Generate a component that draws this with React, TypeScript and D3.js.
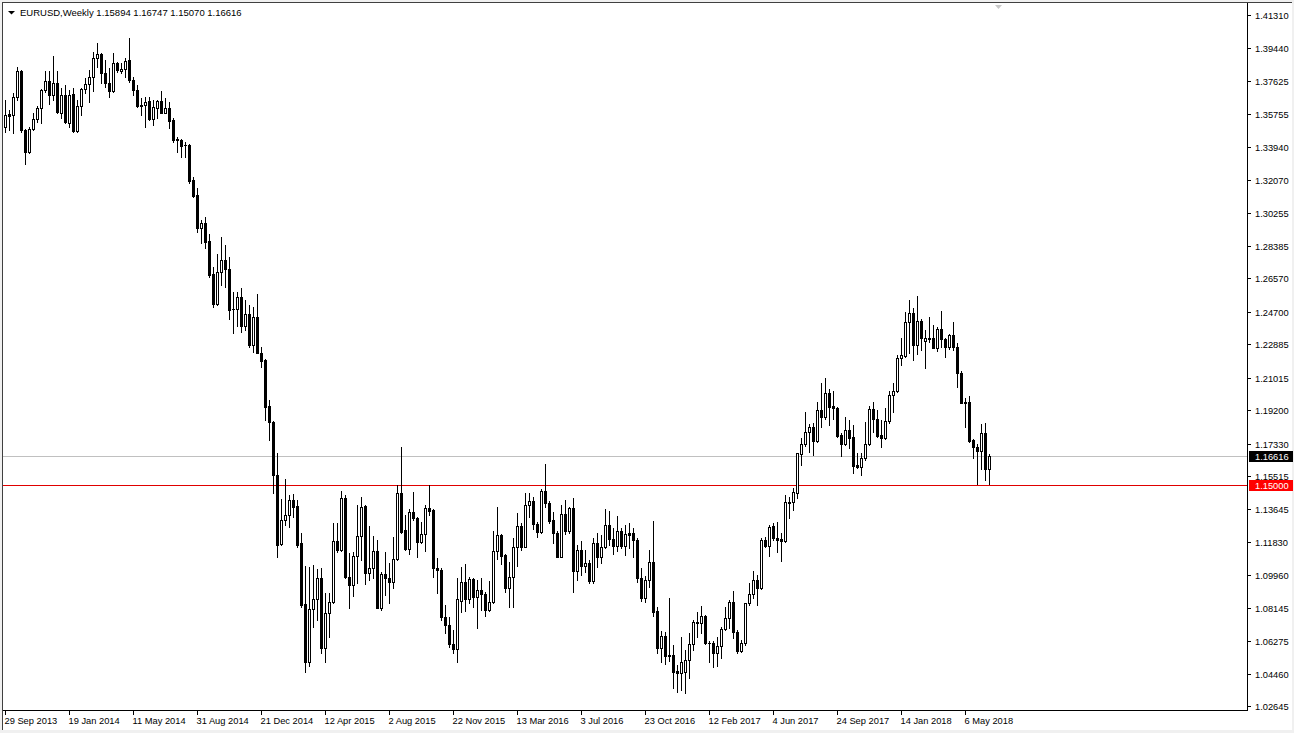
import * as d3 from 'd3';
import React, { ReactElement } from 'react';

const W = 1294;
const H = 733;
const PLOT_RIGHT = 1247;
const PLOT_BOTTOM = 710;
const FONT = "'Liberation Sans', Arial, sans-serif";

const symbol = 'EURUSD,Weekly';

// weekly bars, starting with the week of 29 Sep 2013
const opens = [
  1.3506, 1.3577, 1.3571, 1.3674, 1.3819, 1.3488, 1.3366, 1.3491, 1.3547, 1.3608,
  1.3711, 1.3761, 1.3683, 1.3748, 1.3581, 1.3683, 1.3524, 1.3689, 1.3482, 1.3621,
  1.3715, 1.3743, 1.3782, 1.3892, 1.3911, 1.3805, 1.3752, 1.3706, 1.3861, 1.3817,
  1.3827, 1.3879, 1.3767, 1.3711, 1.3621, 1.3627, 1.365, 1.3547, 1.3608, 1.365,
  1.3584, 1.3608, 1.3543, 1.3436, 1.3432, 1.3404, 1.3404, 1.3208, 1.3124, 1.2941,
  1.2966, 1.2866, 1.2682, 1.2514, 1.2695, 1.276, 1.2708, 1.2486, 1.2484, 1.2551,
  1.2391, 1.2458, 1.2284, 1.2439, 1.2241, 1.22, 1.1943, 1.1854, 1.1557, 1.1171,
  1.1305, 1.1333, 1.1417, 1.1383, 1.1174, 1.0835, 1.0512, 1.0805, 1.0861, 1.0978,
  1.0591, 1.0783, 1.0848, 1.1188, 1.1137, 1.1427, 1.0988, 1.0941, 1.1104, 1.1216,
  1.1383, 1.101, 1.1035, 1.1131, 1.0814, 1.1003, 1.0982, 1.0959, 1.1087, 1.1458,
  1.1249, 1.1141, 1.1351, 1.1318, 1.1184, 1.1225, 1.137, 1.1361, 1.1035, 1.1025,
  1.0764, 1.0718, 1.061, 1.0582, 1.0853, 1.0956, 1.0863, 1.0974, 1.0872, 1.0913,
  1.0891, 1.0801, 1.0844, 1.1131, 1.1221, 1.1109, 1.0926, 1.0984, 1.1152, 1.1271,
  1.1156, 1.1389, 1.1411, 1.1281, 1.124, 1.1467, 1.1402, 1.1305, 1.1234, 1.11,
  1.1339, 1.1245, 1.137, 1.1021, 1.1137, 1.1049, 1.1063, 1.0965, 1.1174, 1.11,
  1.1152, 1.1277, 1.1197, 1.1159, 1.1243, 1.1159, 1.123, 1.123, 1.1193, 1.0978,
  1.0866, 1.0969, 1.107, 1.0796, 1.0591, 1.0656, 1.055, 1.055, 1.046, 1.0447,
  1.0456, 1.0522, 1.0612, 1.0733, 1.0727, 1.077, 1.0619, 1.0619, 1.0559, 1.06,
  1.0695, 1.0755, 1.0844, 1.0677, 1.0574, 1.0615, 1.0839, 1.0889, 1.0969, 1.0922,
  1.1193, 1.1161, 1.1271, 1.1202, 1.1197, 1.1189, 1.1404, 1.1404, 1.1458, 1.1674,
  1.1729, 1.1796, 1.1824, 1.1749, 1.1921, 1.188, 1.2014, 1.1943, 1.1934, 1.1781,
  1.1731, 1.1809, 1.1771, 1.1613, 1.1603, 1.165, 1.1731, 1.1925, 1.187, 1.1781,
  1.1762, 1.1859, 1.2005, 1.2027, 1.221, 1.2223, 1.2411, 1.2462, 1.2284, 1.2419,
  1.2308, 1.2322, 1.2322, 1.2269, 1.2372, 1.2316, 1.2271, 1.234, 1.2275, 1.2126,
  1.1967, 1.1964, 1.1753, 1.1715, 1.1693, 1.179, 1.15894,
];

const highs = [
  1.3655, 1.3599, 1.3692, 1.3842, 1.3823, 1.3495, 1.3506, 1.3581, 1.3621, 1.3716,
  1.3817, 1.3817, 1.3901, 1.3817, 1.372, 1.3739, 1.3711, 1.372, 1.3655, 1.3724,
  1.378, 1.3823, 1.3925, 1.3973, 1.3917, 1.3879, 1.3833, 1.3917, 1.387, 1.3861,
  1.3888, 1.4001, 1.3786, 1.3739, 1.3668, 1.3674, 1.3674, 1.3655, 1.3655, 1.3705,
  1.3665, 1.3645, 1.3553, 1.3447, 1.3436, 1.3422, 1.3408, 1.3223, 1.3161, 1.2984,
  1.3003, 1.2904, 1.2719, 1.2794, 1.289, 1.2844, 1.2778, 1.2583, 1.2583, 1.2602,
  1.2536, 1.2508, 1.2495, 1.257, 1.2271, 1.2205, 1.1977, 1.186, 1.168, 1.1423,
  1.1535, 1.1445, 1.1451, 1.1417, 1.123, 1.1049, 1.1043, 1.1053, 1.1029, 1.1034,
  1.0895, 1.0895, 1.1287, 1.1287, 1.1467, 1.1445, 1.1118, 1.1128, 1.1389, 1.1436,
  1.1388, 1.1271, 1.1215, 1.1193, 1.1016, 1.1128, 1.1062, 1.1212, 1.1501, 1.1715,
  1.1333, 1.1365, 1.1464, 1.1324, 1.1296, 1.1389, 1.1501, 1.1366, 1.1091, 1.1036,
  1.0829, 1.0764, 1.069, 1.0978, 1.1043, 1.1058, 1.0987, 1.098, 1.0969, 1.0978,
  1.0902, 1.0963, 1.1245, 1.1376, 1.1227, 1.1115, 1.1072, 1.1203, 1.1343, 1.1287,
  1.1454, 1.1458, 1.1436, 1.1294, 1.1477, 1.1619, 1.1411, 1.1351, 1.1243, 1.1389,
  1.1417, 1.138, 1.1427, 1.1165, 1.1188, 1.1137, 1.1081, 1.1203, 1.123, 1.1221,
  1.1365, 1.1355, 1.1258, 1.1327, 1.1258, 1.1277, 1.1287, 1.126, 1.1204, 1.1034,
  1.0989, 1.1137, 1.1301, 1.0816, 1.0684, 1.068, 1.087, 1.0606, 1.0494, 1.0652,
  1.0578, 1.0671, 1.0746, 1.0792, 1.0824, 1.0774, 1.063, 1.0628, 1.0652, 1.0708,
  1.0816, 1.0857, 1.0906, 1.069, 1.0634, 1.0842, 1.095, 1.102, 1.0997, 1.1204,
  1.1212, 1.1277, 1.1287, 1.1292, 1.123, 1.1445, 1.1436, 1.1486, 1.1682, 1.1762,
  1.1911, 1.1842, 1.1846, 1.1967, 1.2074, 1.2098, 1.2037, 1.2029, 1.194, 1.179,
  1.1883, 1.1865, 1.1837, 1.1682, 1.1678, 1.1855, 1.1943, 1.1967, 1.1921, 1.1865,
  1.193, 1.2029, 1.2074, 1.2228, 1.2322, 1.2471, 1.2536, 1.249, 1.2559, 1.2428,
  1.2368, 1.2443, 1.2396, 1.2387, 1.2476, 1.2324, 1.2345, 1.2415, 1.2294, 1.2141,
  1.1986, 1.1999, 1.1758, 1.173, 1.1842, 1.185, 1.16747,
];

const lows = [
  1.3478, 1.3488, 1.3473, 1.3655, 1.3478, 1.3296, 1.3361, 1.3488, 1.3533, 1.3528,
  1.3701, 1.3631, 1.3655, 1.3581, 1.3553, 1.3524, 1.3506, 1.3478, 1.3478, 1.3571,
  1.3692, 1.3645, 1.3707, 1.3842, 1.3748, 1.3726, 1.3674, 1.3701, 1.3814, 1.3808,
  1.3786, 1.3758, 1.3683, 1.3618, 1.3571, 1.3506, 1.3543, 1.3515, 1.3553, 1.3581,
  1.3581, 1.3497, 1.3422, 1.3366, 1.3335, 1.3339, 1.319, 1.3115, 1.2919, 1.2857,
  1.2825, 1.2667, 1.2499, 1.2508, 1.262, 1.2611, 1.243, 1.2353, 1.2391, 1.2359,
  1.2368, 1.2271, 1.2246, 1.2238, 1.2163, 1.1865, 1.1753, 1.1454, 1.11, 1.1165,
  1.1277, 1.1268, 1.1324, 1.1156, 1.082, 1.0456, 1.0488, 1.0708, 1.0746, 1.0563,
  1.0512, 1.0652, 1.0842, 1.1127, 1.1131, 1.0978, 1.0814, 1.0881, 1.095, 1.1081,
  1.0947, 1.0969, 1.0978, 1.0811, 1.0801, 1.0885, 1.0839, 1.0923, 1.1081, 1.1234,
  1.1137, 1.1116, 1.1305, 1.11, 1.1178, 1.1131, 1.1333, 1.0988, 1.0895, 1.0746,
  1.0671, 1.0597, 1.0559, 1.0512, 1.0792, 1.0798, 1.0839, 1.082, 1.0703, 1.0801,
  1.0769, 1.0797, 1.0839, 1.1085, 1.1059, 1.0904, 1.082, 1.0817, 1.1047, 1.1137,
  1.1152, 1.1324, 1.1253, 1.1212, 1.1234, 1.1376, 1.1287, 1.1174, 1.1096, 1.1096,
  1.1227, 1.1234, 1.0904, 1.0969, 1.0997, 1.1016, 1.0954, 1.0954, 1.1043, 1.1066,
  1.1146, 1.1165, 1.1115, 1.1131, 1.1148, 1.1109, 1.1146, 1.11, 1.0959, 1.0853,
  1.0846, 1.0932, 1.0768, 1.0563, 1.0512, 1.0498, 1.0518, 1.0363, 1.0344, 1.0354,
  1.0335, 1.042, 1.0578, 1.0652, 1.0671, 1.0612, 1.0512, 1.0484, 1.0488, 1.0531,
  1.069, 1.0699, 1.0643, 1.0563, 1.0568, 1.0606, 1.0829, 1.087, 1.0829, 1.0917,
  1.1156, 1.1104, 1.1193, 1.1127, 1.1073, 1.1184, 1.1316, 1.1361, 1.1427, 1.1613,
  1.1719, 1.1687, 1.1667, 1.1744, 1.1824, 1.1869, 1.1837, 1.1869, 1.1771, 1.1665,
  1.1725, 1.1706, 1.157, 1.1594, 1.1557, 1.1641, 1.1725, 1.1799, 1.1771, 1.1715,
  1.176, 1.1846, 1.1911, 1.2023, 1.2172, 1.2219, 1.2238, 1.22, 1.2234, 1.2256,
  1.2154, 1.2303, 1.2266, 1.2253, 1.2275, 1.2215, 1.226, 1.2256, 1.2051, 1.1958,
  1.1824, 1.174, 1.165, 1.1509, 1.1589, 1.1529, 1.1507,
];

const closes = [
  1.3571, 1.3565, 1.3674, 1.3819, 1.3488, 1.3366, 1.3491, 1.3547, 1.3608, 1.3711,
  1.3761, 1.3683, 1.3748, 1.3589, 1.3683, 1.3533, 1.3683, 1.3482, 1.3621, 1.3715,
  1.3743, 1.3782, 1.3892, 1.3911, 1.3805, 1.3752, 1.3706, 1.3861, 1.3823, 1.3827,
  1.3873, 1.3767, 1.3711, 1.3621, 1.3627, 1.3645, 1.3547, 1.3614, 1.365, 1.3584,
  1.3608, 1.3539, 1.3432, 1.3432, 1.34, 1.3402, 1.3202, 1.312, 1.2941, 1.2966,
  1.2862, 1.2676, 1.2514, 1.2695, 1.276, 1.2708, 1.248, 1.2484, 1.2551, 1.2391,
  1.2458, 1.2284, 1.2439, 1.2241, 1.2196, 1.194, 1.1854, 1.1557, 1.1165, 1.1305,
  1.1333, 1.1417, 1.138, 1.1165, 1.0829, 1.0512, 1.0805, 1.0861, 1.0978, 1.0591,
  1.0783, 1.0848, 1.1188, 1.1137, 1.1427, 1.0988, 1.0941, 1.1104, 1.1216, 1.138,
  1.101, 1.1035, 1.1131, 1.0814, 1.1003, 1.0978, 1.0959, 1.1087, 1.1458, 1.124,
  1.1141, 1.1351, 1.1314, 1.1184, 1.1225, 1.137, 1.1357, 1.1035, 1.1025, 1.0764,
  1.0718, 1.061, 1.0582, 1.0861, 1.0956, 1.0863, 1.0974, 1.0875, 1.0913, 1.0891,
  1.0801, 1.0844, 1.1131, 1.1221, 1.1105, 1.0926, 1.0984, 1.1152, 1.1271, 1.1156,
  1.1389, 1.1411, 1.1281, 1.124, 1.1467, 1.1398, 1.1301, 1.1234, 1.11, 1.1339,
  1.1245, 1.137, 1.1021, 1.1137, 1.1049, 1.1063, 1.0965, 1.1174, 1.11, 1.1152,
  1.1277, 1.1197, 1.1159, 1.1243, 1.1159, 1.1225, 1.1221, 1.1193, 1.0978, 1.0866,
  1.0969, 1.107, 1.0792, 1.0591, 1.0656, 1.0546, 1.0546, 1.0456, 1.0447, 1.0509,
  1.0522, 1.0612, 1.0733, 1.0727, 1.077, 1.0619, 1.0615, 1.0559, 1.06, 1.0695,
  1.0755, 1.0844, 1.0677, 1.0574, 1.0615, 1.0839, 1.0889, 1.0969, 1.0922, 1.1193,
  1.1161, 1.1268, 1.1202, 1.1193, 1.1189, 1.1404, 1.1407, 1.146, 1.1678, 1.1729,
  1.1796, 1.1824, 1.1749, 1.1921, 1.188, 1.2014, 1.194, 1.1931, 1.1777, 1.1731,
  1.1809, 1.1766, 1.1609, 1.1603, 1.165, 1.1731, 1.1925, 1.1869, 1.1777, 1.1766,
  1.1859, 1.2005, 1.2027, 1.221, 1.2227, 1.2411, 1.2462, 1.2284, 1.2419, 1.2322,
  1.2322, 1.2318, 1.2269, 1.2372, 1.2316, 1.2271, 1.234, 1.2275, 1.2126, 1.1962,
  1.1962, 1.1747, 1.1715, 1.1693, 1.179, 1.159, 1.16616,
];

const priceTicks = [
  1.4131, 1.3944, 1.37625, 1.35755, 1.3394, 1.3207, 1.30255, 1.28385, 1.2657, 1.247, 1.22885,
  1.21015, 1.192, 1.1733, 1.15515, 1.13645, 1.1183, 1.0996, 1.08145, 1.06275, 1.0446, 1.02645,
];

const dateLabels = [
  '29 Sep 2013', '19 Jan 2014', '11 May 2014', '31 Aug 2014', '21 Dec 2014', '12 Apr 2015',
  '2 Aug 2015', '22 Nov 2015', '13 Mar 2016', '3 Jul 2016', '23 Oct 2016', '12 Feb 2017',
  '4 Jun 2017', '24 Sep 2017', '14 Jan 2018', '6 May 2018',
];

const alertLevel = 1.15;

const App = (): ReactElement => {
  const n = closes.length;
  const x = d3.scaleLinear().domain([0, 1]).range([5.5, 9.5]);
  const y = d3.scaleLinear().domain([1.02418, 1.41926]).range([PLOT_BOTTOM, 4]);
  const py = (v: number) => Math.round(y(v));

  const parse = d3.timeParse('%d %b %Y');
  const start = parse(dateLabels[0]) as Date;
  const dateIdx = dateLabels.map((s) =>
    Math.round(d3.timeDay.count(start, parse(s) as Date) / 7),
  );

  const last = closes[n - 1];
  const fmt = d3.format('.5f');
  const header = `${symbol}  ${fmt(opens[n - 1])} ${fmt(highs[n - 1])} ${fmt(lows[n - 1])} ${fmt(last)}`;

  const candles = d3.range(n).map((i) => {
    const o = opens[i];
    const c = closes[i];
    const xc = x(i);
    const top = py(Math.max(o, c));
    const bot = py(Math.min(o, c));
    const up = c > o;
    return (
      <g key={i}>
        <line x1={xc} x2={xc} y1={py(highs[i])} y2={py(lows[i]) + 1} stroke="#000" strokeWidth={1} />
        {up ? (
          <rect x={xc - 1} y={top + 0.5} width={2} height={Math.max(bot - top, 1)} fill="#fff" stroke="#000" strokeWidth={1} />
        ) : (
          <rect x={xc - 1.5} y={top} width={3} height={Math.max(bot - top + 1, 1)} fill="#000" />
        )}
      </g>
    );
  });

  return (
    <>
      <style>{'body{margin:0;}'}</style>
      <svg width={W} height={H} style={{ display: 'block', fontFamily: FONT }}>
        <rect x={0} y={0} width={W} height={H} fill="#f0f0f0" />
        <rect x={2} y={2} width={W - 4} height={H - 5} fill="#fff" />
        <line x1={2} x2={W - 2} y1={2.5} y2={2.5} stroke="#404040" />
        <line x1={2.5} x2={2.5} y1={2} y2={H - 3} stroke="#404040" />

        {/* horizontal levels */}
        <line x1={3} x2={PLOT_RIGHT} y1={py(last) + 0.5} y2={py(last) + 0.5} stroke="#c0c0c0" />
        <line x1={3} x2={PLOT_RIGHT} y1={py(alertLevel) + 0.5} y2={py(alertLevel) + 0.5} stroke="#e00000" />

        {candles}

        {/* axes */}
        <line x1={PLOT_RIGHT + 0.5} x2={PLOT_RIGHT + 0.5} y1={3} y2={PLOT_BOTTOM + 1} stroke="#000" />
        <line x1={3} x2={PLOT_RIGHT + 1} y1={PLOT_BOTTOM + 0.5} y2={PLOT_BOTTOM + 0.5} stroke="#000" />

        {priceTicks.map((t) => (
          <g key={t}>
            <line x1={PLOT_RIGHT} x2={PLOT_RIGHT + 4} y1={py(t) + 0.5} y2={py(t) + 0.5} stroke="#000" />
            <text x={PLOT_RIGHT + 8} y={py(t) + 3.5} fontSize={9.3} fill="#000">
              {fmt(t)}
            </text>
          </g>
        ))}

        {dateLabels.map((s, k) => (
          <g key={s}>
            <line x1={x(dateIdx[k])} x2={x(dateIdx[k])} y1={PLOT_BOTTOM + 1} y2={PLOT_BOTTOM + 5} stroke="#000" />
            <text x={x(dateIdx[k]) - 1} y={724} fontSize={9.3} fill="#000">
              {s}
            </text>
          </g>
        ))}

        {/* price tags */}
        <rect x={PLOT_RIGHT + 2} y={py(last) - 5} width={44} height={11} fill="#000" />
        <text x={PLOT_RIGHT + 8} y={py(last) + 4} fontSize={9.3} fill="#fff">
          {fmt(last)}
        </text>
        <rect x={PLOT_RIGHT + 2} y={py(alertLevel) - 5} width={44} height={11} fill="#ff0000" />
        <text x={PLOT_RIGHT + 8} y={py(alertLevel) + 4} fontSize={9.3} fill="#fff">
          {fmt(alertLevel)}
        </text>

        {/* header */}
        <path d="M8,11 L15,11 L11.5,14.5 Z" fill="#000" />
        <text x={20} y={16} fontSize={9.5} fill="#000">
          {header}
        </text>
        <path d="M995,5 L1002,5 L998.5,9 Z" fill="#c8c8c8" />
      </svg>
    </>
  );
};

export default App;
